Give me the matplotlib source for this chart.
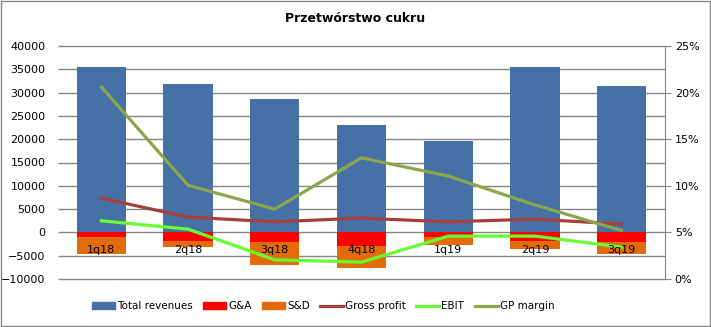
import numpy as np
import matplotlib
matplotlib.use("Agg")
import matplotlib.pyplot as plt
from matplotlib.patches import Patch
from matplotlib.lines import Line2D

quarters = ['1q18', '2q18', '3q18', '4q18', '1q19', '2q19', '3q19']
total_revenues = [35500, 31900, 28700, 23100, 19700, 35500, 31400]
g_and_a = [-950, -1800, -2000, -2870, -950, -1800, -2000]
s_and_d = [-3580, -1300, -5100, -4730, -1850, -1860, -2600]
gross_profit = [7350, 3280, 2270, 3060, 2270, 2850, 1780]
ebit = [2490, 700, -5880, -6380, -800, -800, -3150]
gp_margin = [20.6, 10.05, 7.5, 13.0, 11.05, 7.95, 5.2]

C_REV = '#4571A6'
C_GA = '#FF0000'
C_SD = '#E36C0A'
C_GP = '#A6403D'
C_EBIT = '#66FF33'
C_GPM = '#8CA64B'

plt.rcParams['font.family'] = ['DejaVu Sans']

fig = plt.figure(figsize=(7.11, 3.27), dpi=100)
fig.patch.set_facecolor('white')
ax = fig.add_axes([58 / 711, 1 - 279 / 327, 607 / 711, 233 / 327])

x = np.arange(len(quarters))
w = 0.57
ax.bar(x, total_revenues, w, color=C_REV, zorder=2)
ax.bar(x, g_and_a, w, color=C_GA, zorder=2)
ax.bar(x, s_and_d, w, bottom=g_and_a, color=C_SD, zorder=2)
ax.plot(x, gross_profit, color=C_GP, lw=2.3, zorder=3)
ax.plot(x, ebit, color=C_EBIT, lw=2.3, zorder=3)

yt = np.arange(-10000, 40001, 5000)
ax.set_xlim(-0.5, len(quarters) - 0.5)
ax.set_ylim(-10000, 40000)
ax.set_yticks(yt)
ax.hlines(yt, -0.5, len(quarters) - 0.5, color='#868686', lw=1.0, zorder=1, clip_on=False)
ax.set_xticks([])
for s in ['top', 'right', 'left', 'bottom']:
    ax.spines[s].set_visible(False)
ax.tick_params(axis='y', length=0, labelsize=8, pad=9)

# category labels sit just under the zero line
for xi, q in zip(x, quarters):
    ax.text(xi, -3700, q, ha='center', va='center', fontsize=8, zorder=5)

ax2 = ax.twinx()
ax2.plot(x, gp_margin, color=C_GPM, lw=2.3, zorder=4)
ax2.set_ylim(0, 25)
ax2.set_yticks(np.arange(0, 26, 5))
ax2.set_yticklabels(['%d%%' % v for v in range(0, 26, 5)])
for s in ['top', 'left', 'bottom']:
    ax2.spines[s].set_visible(False)
ax2.spines['right'].set_color('#868686')
ax2.tick_params(axis='y', direction='out', length=4, color='#868686', labelsize=8, pad=3)

fig.text(355 / 711, 1 - 18 / 327, 'Przetwórstwo cukru', ha='center', va='center',
         fontsize=9, fontweight='bold')

handles = [
    Patch(color=C_REV, label='Total revenues'),
    Patch(color=C_GA, label='G&A'),
    Patch(color=C_SD, label='S&D'),
    Line2D([], [], color=C_GP, lw=2.3, label='Gross profit'),
    Line2D([], [], color=C_EBIT, lw=2.3, label='EBIT'),
    Line2D([], [], color=C_GPM, lw=2.3, label='GP margin'),
]
fig.legend(handles=handles, loc='center left', bbox_to_anchor=(92 / 711, 1 - 306 / 327), ncol=6,
           frameon=False, fontsize=7.5, handlelength=2.2, handleheight=0.6,
           handletextpad=0.2, columnspacing=1.0, borderaxespad=0, borderpad=0)

# thin frame around the whole chart
fig.add_artist(plt.Rectangle((0.001, 0.002), 0.997, 0.995, transform=fig.transFigure,
                             fill=False, edgecolor='#868686', lw=1))

fig.savefig('out.png', dpi=100)
